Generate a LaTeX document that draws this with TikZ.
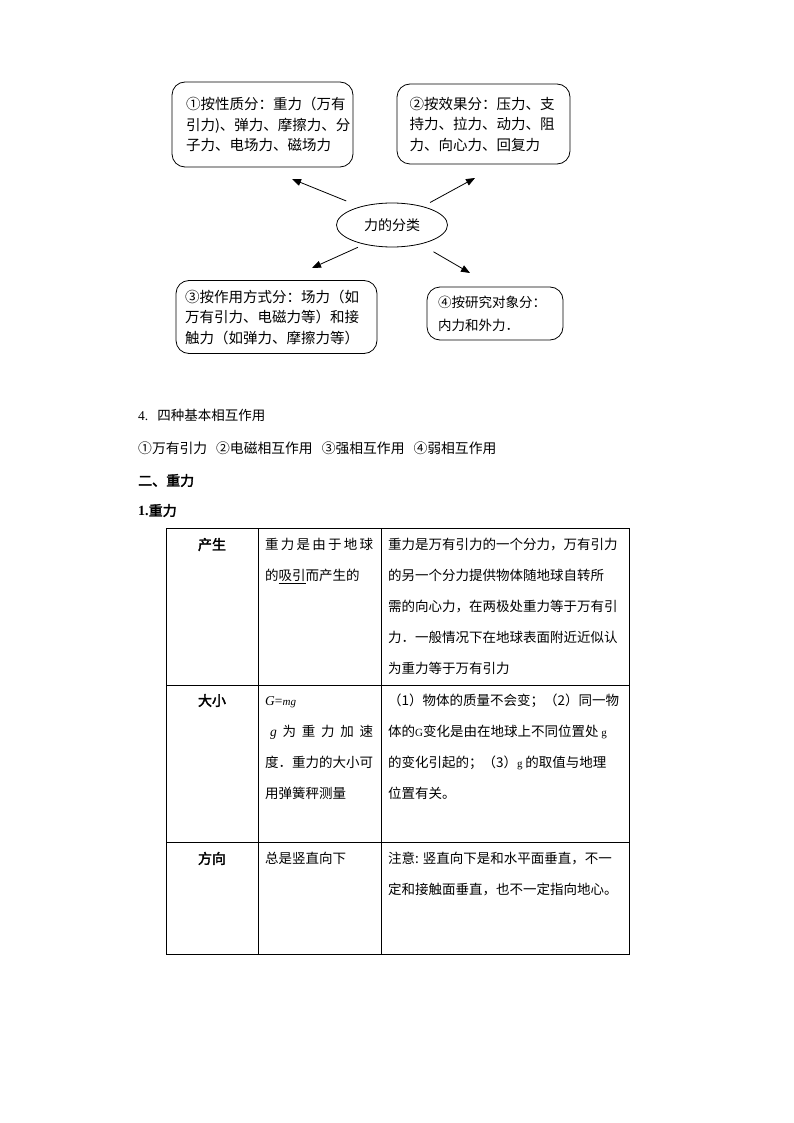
\documentclass[tikz,border=0pt]{standalone}
\usepackage{fontspec}
\setmainfont{Noto Sans CJK SC}[AutoFakeBold=2.5]
\newfontfamily\lat{Liberation Serif}
\usetikzlibrary{arrows.meta,shapes.geometric}
\tikzset{
  rbox/.style={draw, line width=0.8pt, rounded corners=13pt, align=left, inner sep=0pt,
    font=\fontsize{14.5}{20.5}\selectfont},
  oval/.style={draw, ellipse, line width=0.8pt, inner sep=0pt, font=\fontsize{14}{14}\selectfont},
  arr/.style={-{Triangle[length=9pt,width=7pt]}, line width=0.8pt},
  t/.style={anchor=west, inner sep=0pt, text height=0.88em, text depth=0.12em,
    font=\fontsize{13.5}{13.5}\selectfont},
  hd/.style={t, font=\fontsize{14}{14}\selectfont\bfseries},
  ch/.style={hd, anchor=center},
  grid/.style={line width=0.8pt},
}
\begin{document}
\begin{tikzpicture}[x=1pt,y=-1pt]
\fill[white] (0,0) rectangle (794,1123);
\useasboundingbox (0,0) rectangle (794,1123);

% ---- classification diagram ----
\node[rbox, minimum width=181pt, minimum height=85pt, text width=153pt] (b1) at (262.5,124.5)
  {①按性质分：重力（万有\\引力)、弹力、摩擦力、分\\子力、电场力、磁场力};
\node[rbox, minimum width=173pt, minimum height=80pt, text width=148pt] (b2) at (483.5,124)
  {②按效果分：压力、支\\持力、拉力、动力、阻\\力、向心力、回复力};
\node[rbox, minimum width=201pt, minimum height=73pt, text width=183pt] (b3) at (276.5,317)
  {③按作用方式分：场力（如\\万有引力、电磁力等）和接\\触力（如弹力、摩擦力等）};
\node[rbox, minimum width=136pt, minimum height=53pt, text width=114pt,
  font=\fontsize{13.5}{23}\selectfont] (b4) at (495,313.5)
  {④按研究对象分：\\内力和外力．};
\node[oval, minimum width=111pt, minimum height=44pt] (c) at (392,225) {力的分类};

\coordinate (t1) at (292,179);
\coordinate (t2) at (475,178);
\coordinate (t3) at (312,268);
\coordinate (t4) at (470,273);
\draw[arr, shorten <=15pt] (c.150) -- (t1);
\draw[arr, shorten <=8pt] (c.31) -- (t2);
\draw[arr, shorten <=7pt] (c.215) -- (t3);
\draw[arr, shorten <=15pt] (c.-34) -- (t4);

% ---- text lines ----
\node[t] (n4) at (138,417) {{\lat 4.}\hspace{9pt}四种基本相互作用};
\node[t, font=\fontsize{13.8}{13.8}\selectfont] (l4) at (138,450) {①万有引力\hspace{9pt}②电磁相互作用\hspace{9pt}③强相互作用\hspace{9pt}④弱相互作用};
\node[hd] (h2) at (138,482) {二、重力};
\node[hd] (h1) at (138,512) {{\lat\bfseries 1.}重力};

% ---- table ----
\draw[grid] (166,528) rectangle (629,954);
\draw[grid] (258,528) -- (258,954);
\draw[grid] (381,528) -- (381,954);
\draw[grid] (166,685) -- (629,685);
\draw[grid] (166,842) -- (629,842);

% row 1
\node[ch] (r1h) at (212,546) {产生};
\node[t] (r1a1) at (265,546) {\makebox[108pt][l]{重\hfill 力\hfill 是\hfill 由\hfill 于\hfill 地\hfill 球}};
\node[t] (r1a2) at (265,577) {的\underline{吸引}而产生的};
\node[t] (r1b1) at (388,546) {重力是万有引力的一个分力，万有引力};
\node[t] (r1b2) at (388,577) {的另一个分力提供物体随地球自转所};
\node[t] (r1b3) at (388,608) {需的向心力，在两极处重力等于万有引};
\node[t] (r1b4) at (388,639) {力．一般情况下在地球表面附近近似认};
\node[t] (r1b5) at (388,670) {为重力等于万有引力};

% row 2
\node[ch] (r2h) at (212,702) {大小};
\node[t] (r2a1) at (265,702) {{\lat\itshape G}{\lat =}{\lat\itshape\fontsize{11}{11}\selectfont mg}};
\node[t] (r2a2) at (267,733) {\makebox[106pt][l]{\hspace{3pt}{\lat\itshape g}\hfill 为\hfill 重\hfill 力\hfill 加\hfill 速}};
\node[t] (r2a3) at (265,764) {度．重力的大小可};
\node[t] (r2a4) at (265,795) {用弹簧秤测量};
\node[t] (r2b1) at (388,702) {（1）物体的质量不会变；（2）同一物};
\node[t] (r2b2) at (388,733) {体的{\lat\fontsize{11}{11}\selectfont G}变化是由在地球上不同位置处{\lat\fontsize{11}{11}\selectfont\ g}};
\node[t] (r2b3) at (388,764) {的变化引起的；（3）{\lat\fontsize{11}{11}\selectfont g\ }的取值与地理};
\node[t] (r2b4) at (388,795) {位置有关。};

% row 3
\node[ch] (r3h) at (212,860) {方向};
\node[t] (r3a1) at (265,860) {总是竖直向下};
\node[t] (r3b1) at (388,860) {注意: 竖直向下是和水平面垂直，不一};
\node[t] (r3b2) at (388,891) {定和接触面垂直，也不一定指向地心。};
\end{tikzpicture}
\end{document}
